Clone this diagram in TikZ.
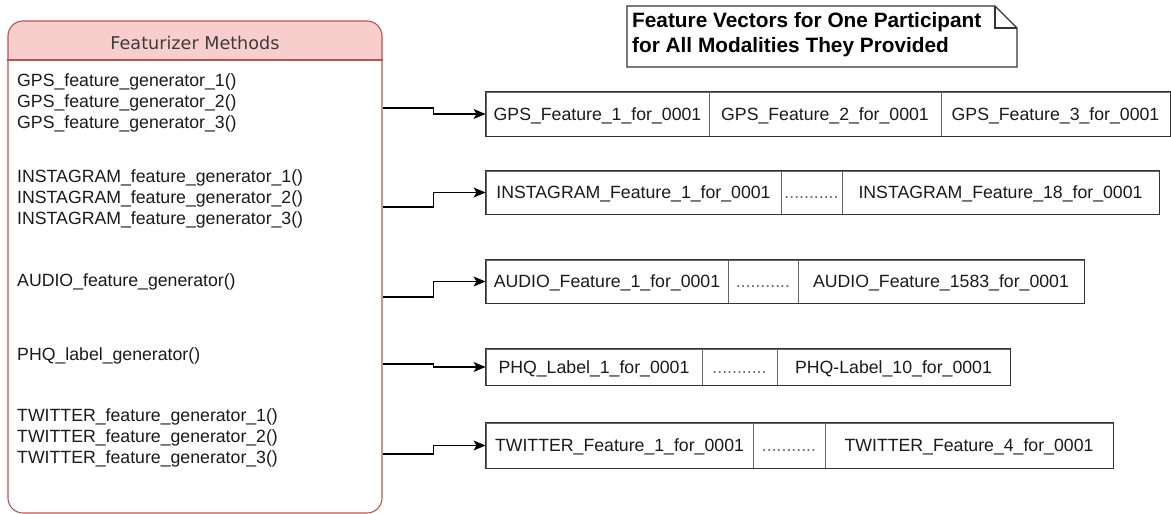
\documentclass[tikz,border=0pt]{standalone}
\usepackage{fontspec}
\setmainfont{Liberation Sans}
\newfontfamily\hdrfont{DejaVu Sans}
\usetikzlibrary{arrows.meta}
\definecolor{hdrfill}{HTML}{F8CECC}
\definecolor{hdrline}{HTML}{B85450}
\definecolor{txt}{HTML}{1A1A1A}
\definecolor{cellline}{HTML}{666666}
\definecolor{boxline}{HTML}{333333}
\begin{document}
\begin{tikzpicture}[x=1pt,y=-1pt,
  reg/.style={font=\fontsize{17.7}{21}\selectfont, text=txt, inner sep=0pt},
  grp/.style={reg, align=left, anchor=west},
  cell/.style={reg, draw=cellline, line width=0.9pt, minimum height=#1, anchor=center, text height=12.7pt, text depth=0pt},
  outer/.style={draw=boxline, line width=1.2pt},
  conn/.style={draw=black, line width=1.2pt, -{Stealth[length=12pt,width=10pt,inset=3pt]}},
  dotsc/.style={text=cellline}
]
\useasboundingbox (0,0) rectangle (1171,514);

% ---- featurizer box ----
\begin{scope}
\clip[rounded corners=15pt] (8,21) rectangle (382,513);
\fill[hdrfill] (8,21) rectangle (382,60);
\end{scope}
\node[draw=hdrline, line width=1.1pt, rounded corners=15pt, minimum width=374pt, minimum height=492pt, inner sep=0pt] (main) at (195,267) {};
\draw[hdrline, line width=1.1pt] (main.west |- 0,60) -- (main.east |- 0,60);
\node[font=\hdrfont\fontsize{17.6}{21}\selectfont, text=txt!85!white, inner sep=0pt] (hdr) at (195,43) {Featurizer Methods};

\node[grp] (tgps) at (17,103) {GPS\_feature\_generator\_1()\\GPS\_feature\_generator\_2()\\GPS\_feature\_generator\_3()};
\node[grp] (tins) at (17,199) {INSTAGRAM\_feature\_generator\_1()\\INSTAGRAM\_feature\_generator\_2()\\INSTAGRAM\_feature\_generator\_3()};
\node[grp] (taud) at (17,282) {AUDIO\_feature\_generator()};
\node[grp] (tphq) at (17,356) {PHQ\_label\_generator()};
\node[grp] (ttw) at (17,438) {TWITTER\_feature\_generator\_1()\\TWITTER\_feature\_generator\_2()\\TWITTER\_feature\_generator\_3()};

% ---- note ----
\draw[boxline, line width=1.2pt] (627,6) -- (995,6) -- (1017,28) -- (1017,67) -- (627,67) -- cycle;
\draw[boxline, line width=1.2pt] (995,6) -- (995,28) -- (1017,28);
\node[font=\bfseries\fontsize{20.8}{25}\selectfont, text=black, align=left, anchor=west, inner sep=0pt] (note) at (632,35) {Feature Vectors for One Participant\\for All Modalities They Provided};

% ---- GPS vector ----
\node[cell=44pt, minimum width=223pt] (g1) at (597.5,114) {GPS\_Feature\_1\_for\_0001};
\node[cell=44pt, minimum width=232pt] (g2) at (825,114) {GPS\_Feature\_2\_for\_0001};
\node[cell=44pt, minimum width=229pt] (g3) at (1055.5,114) {GPS\_Feature\_3\_for\_0001};
\draw[outer] (g1.north west) rectangle (g3.south east);

% ---- INSTAGRAM vector ----
\node[cell=43pt, minimum width=295pt] (i1) at (633.5,192.5) {INSTAGRAM\_Feature\_1\_for\_0001};
\node[cell=43pt, minimum width=61pt, dotsc] (i2) at (811.5,192.5) {...........};
\node[cell=43pt, minimum width=317pt] (i3) at (1000.5,192.5) {INSTAGRAM\_Feature\_18\_for\_0001};
\draw[outer] (i1.north west) rectangle (i3.south east);

% ---- AUDIO vector ----
\node[cell=43pt, minimum width=242pt] (a1) at (607,281.5) {AUDIO\_Feature\_1\_for\_0001};
\node[cell=43pt, minimum width=70pt, dotsc] (a2) at (763,281.5) {...........};
\node[cell=43pt, minimum width=286pt] (a3) at (941,281.5) {AUDIO\_Feature\_1583\_for\_0001};
\draw[outer] (a1.north west) rectangle (a3.south east);

% ---- PHQ vector ----
\node[cell=36pt, minimum width=216pt] (p1) at (594,367) {PHQ\_Label\_1\_for\_0001};
\node[cell=36pt, minimum width=75pt, dotsc] (p2) at (739.5,367) {...........};
\node[cell=36pt, minimum width=233pt] (p3) at (893.5,367) {PHQ-Label\_10\_for\_0001};
\draw[outer] (p1.north west) rectangle (p3.south east);

% ---- TWITTER vector ----
\node[cell=45pt, minimum width=267pt] (w1) at (619.5,445.5) {TWITTER\_Feature\_1\_for\_0001};
\node[cell=45pt, minimum width=72pt, dotsc] (w2) at (789,445.5) {...........};
\node[cell=45pt, minimum width=288pt] (w3) at (969,445.5) {TWITTER\_Feature\_4\_for\_0001};
\draw[outer] (w1.north west) rectangle (w3.south east);

% ---- connectors ----
\draw[conn] (main.east |- 0,108) -- ++(51,0) |- (g1.west);
\draw[conn] (main.east |- 0,207) -- ++(51,0) |- (i1.west);
\draw[conn] (main.east |- 0,297) -- ++(51,0) |- (a1.west);
\draw[conn] (main.east |- 0,364) -- ++(51,0) |- (p1.west);
\draw[conn] (main.east |- 0,454) -- ++(51,0) |- (w1.west);
\end{tikzpicture}
\end{document}
